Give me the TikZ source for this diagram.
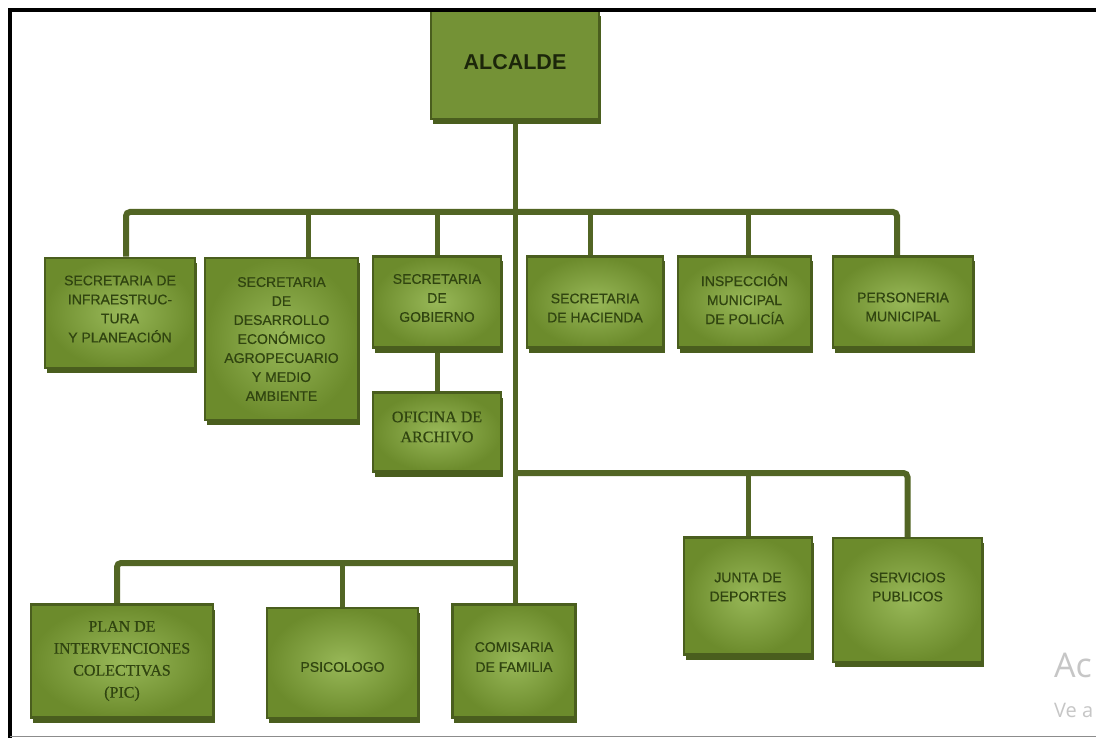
\documentclass[tikz,border=0pt]{standalone}
\usepackage{fontspec}
\setmainfont{Liberation Sans}
\newfontfamily\boxface[FakeBold=0.5]{Liberation Sans}
\newfontfamily\serifface[FakeBold=0.5]{Liberation Serif}
\newfontfamily\wmface{Open Sans}
\usetikzlibrary{shadows,backgrounds}
\definecolor{boxin}{RGB}{152,184,88}
\definecolor{boxout}{RGB}{108,139,44}
\definecolor{boxdark}{RGB}{74,94,30}
\definecolor{linegreen}{RGB}{82,101,36}
\definecolor{txtgreen}{RGB}{48,68,16}
\definecolor{alcfill}{RGB}{116,146,54}
\definecolor{alctext}{RGB}{28,38,10}
\definecolor{wmgray}{RGB}{198,198,198}
\begin{document}
\begin{tikzpicture}[x=1pt,y=-1pt,
  greenbox/.style={rectangle, draw=boxdark, line width=2.5pt, inner sep=0pt,
    inner color=boxin, outer color=boxout,
    drop shadow={shadow xshift=1.5pt, shadow yshift=-5pt, fill=boxdark, opacity=1}},
  alcbox/.style={rectangle, draw=boxdark, line width=2.5pt, inner sep=0pt, fill=alcfill,
    drop shadow={shadow xshift=1.5pt, shadow yshift=-5pt, fill=boxdark, opacity=1}},
  sanstxt/.style={text=txtgreen, font=\boxface\fontsize{14}{19}\selectfont, align=center, inner sep=0pt},
  seriftxt/.style={text=txtgreen, font=\serifface\fontsize{16}{21}\selectfont, align=center, inner sep=0pt},
  conn/.style={draw=linegreen, line width=5pt},
  bar/.style={draw=linegreen, line width=6pt, rounded corners=4pt},
  wmtxt/.style={text=wmgray, inner sep=0pt, anchor=base west}]
\useasboundingbox (0,0) rectangle (1096,738);
\clip (0,0) rectangle (1096,738);

% boxes
\node[alcbox, minimum width=168pt, minimum height=108pt] (alc) at (515,65) {};
\node[greenbox, minimum width=150pt, minimum height=110pt] (b1) at (120,313) {};
\node[greenbox, minimum width=153pt, minimum height=162pt] (b2) at (281.5,339) {};
\node[greenbox, minimum width=128pt, minimum height=91pt] (gob) at (437,302) {};
\node[greenbox, minimum width=136pt, minimum height=91pt] (hac) at (595,302) {};
\node[greenbox, minimum width=133pt, minimum height=91pt] (insp) at (744.5,302) {};
\node[greenbox, minimum width=140pt, minimum height=91pt] (pers) at (903,302) {};
\node[greenbox, minimum width=128pt, minimum height=79pt] (arch) at (437,432) {};
\node[greenbox, minimum width=182pt, minimum height=113pt] (pic) at (122,661) {};
\node[greenbox, minimum width=151pt, minimum height=110pt] (psi) at (342.5,663) {};
\node[greenbox, minimum width=123pt, minimum height=113pt] (comi) at (514,661) {};
\node[greenbox, minimum width=128pt, minimum height=117pt] (junta) at (748,596) {};
\node[greenbox, minimum width=149pt, minimum height=124pt] (serv) at (907.5,600) {};

% texts
\node[text=alctext, font=\bfseries\fontsize{21.5}{24}\selectfont, inner sep=0pt] (alct) at ([yshift=3pt]alc.center) {ALCALDE};
\node[sanstxt] (b1t) at ([yshift=4pt]b1.center) {SECRETARIA DE\\INFRAESTRUC-\\TURA\\Y PLANEACIÓN};
\node[sanstxt] (b2t) at (b2.center) {SECRETARIA\\DE\\DESARROLLO\\ECONÓMICO\\AGROPECUARIO\\Y MEDIO\\AMBIENTE};
\node[sanstxt] (gobt) at ([yshift=4pt]gob.center) {SECRETARIA\\DE\\GOBIERNO};
\node[sanstxt] (hact) at ([yshift=-6pt]hac.center) {SECRETARIA\\DE HACIENDA};
\node[sanstxt] (inspt) at ([yshift=3pt]insp.center) {INSPECCIÓN\\MUNICIPAL\\DE POLICÍA};
\node[sanstxt] (perst) at ([yshift=-5pt]pers.center) {PERSONERIA\\MUNICIPAL};
\node[seriftxt, font=\serifface\fontsize{16}{20}\selectfont] (archt) at ([yshift=5pt]arch.center) {OFICINA DE\\ARCHIVO};
\node[seriftxt, font=\serifface\fontsize{16}{22}\selectfont] (pict) at (pic.center) {PLAN DE\\INTERVENCIONES\\COLECTIVAS\\(PIC)};
\node[sanstxt] (psit) at ([yshift=-4pt]psi.center) {PSICOLOGO};
\node[sanstxt, font=\boxface\fontsize{14}{20}\selectfont] (comit) at ([yshift=4pt]comi.center) {COMISARIA\\DE FAMILIA};
\node[sanstxt] (juntat) at ([yshift=9pt]junta.center) {JUNTA DE\\DEPORTES};
\node[sanstxt] (servt) at ([yshift=13pt]serv.center) {SERVICIOS\\PUBLICOS};

% connectors
\coordinate (tb) at (515,212);
\coordinate (mb) at (515,473);
\coordinate (lb) at (515,563);
\coordinate (d1) at ([xshift=6pt]b1.north);
\coordinate (d2) at ([xshift=26.5pt]b2.north);
\coordinate (dh) at ([xshift=-5pt]hac.north);
\coordinate (di) at ([xshift=3.5pt]insp.north);
\coordinate (dp) at ([xshift=-6pt]pers.north);
\coordinate (dpic) at ([xshift=-5pt]pic.north);
\begin{scope}[on background layer]
  \fill[white] (0,0) rectangle (1096,738);
  \draw[conn] (alc.south) -- (alc.south |- comi.north);
  \draw[bar] (d1) |- (tb) -| (dp);
  \draw[conn] (d2) -- (d2 |- tb);
  \draw[conn] (gob.north) -- (gob.north |- tb);
  \draw[conn] (dh) -- (dh |- tb);
  \draw[conn] (di) -- (di |- tb);
  \draw[conn] (gob.south) -- (arch.north);
  \draw[bar] (mb) -| (serv.north);
  \draw[conn] (junta.north) -- (junta.north |- mb);
  \draw[bar] (lb) -| (dpic);
  \draw[conn] (psi.north) -- (psi.north |- lb);
\end{scope}

% frame
\draw[black, line width=3.5pt] (10,738) -- (10,10) -- (1096,10);
\draw[black!45, line width=1.5pt] (10,736.5) -- (1096,736.5);

% watermark
\node[wmtxt, font=\wmface\fontsize{34}{34}\selectfont] (wm1) at (1054,677) {Ac};
\node[wmtxt, font=\wmface\fontsize{20}{20}\selectfont] (wm2) at (1054,717) {Ve a};
\end{tikzpicture}
\end{document}
